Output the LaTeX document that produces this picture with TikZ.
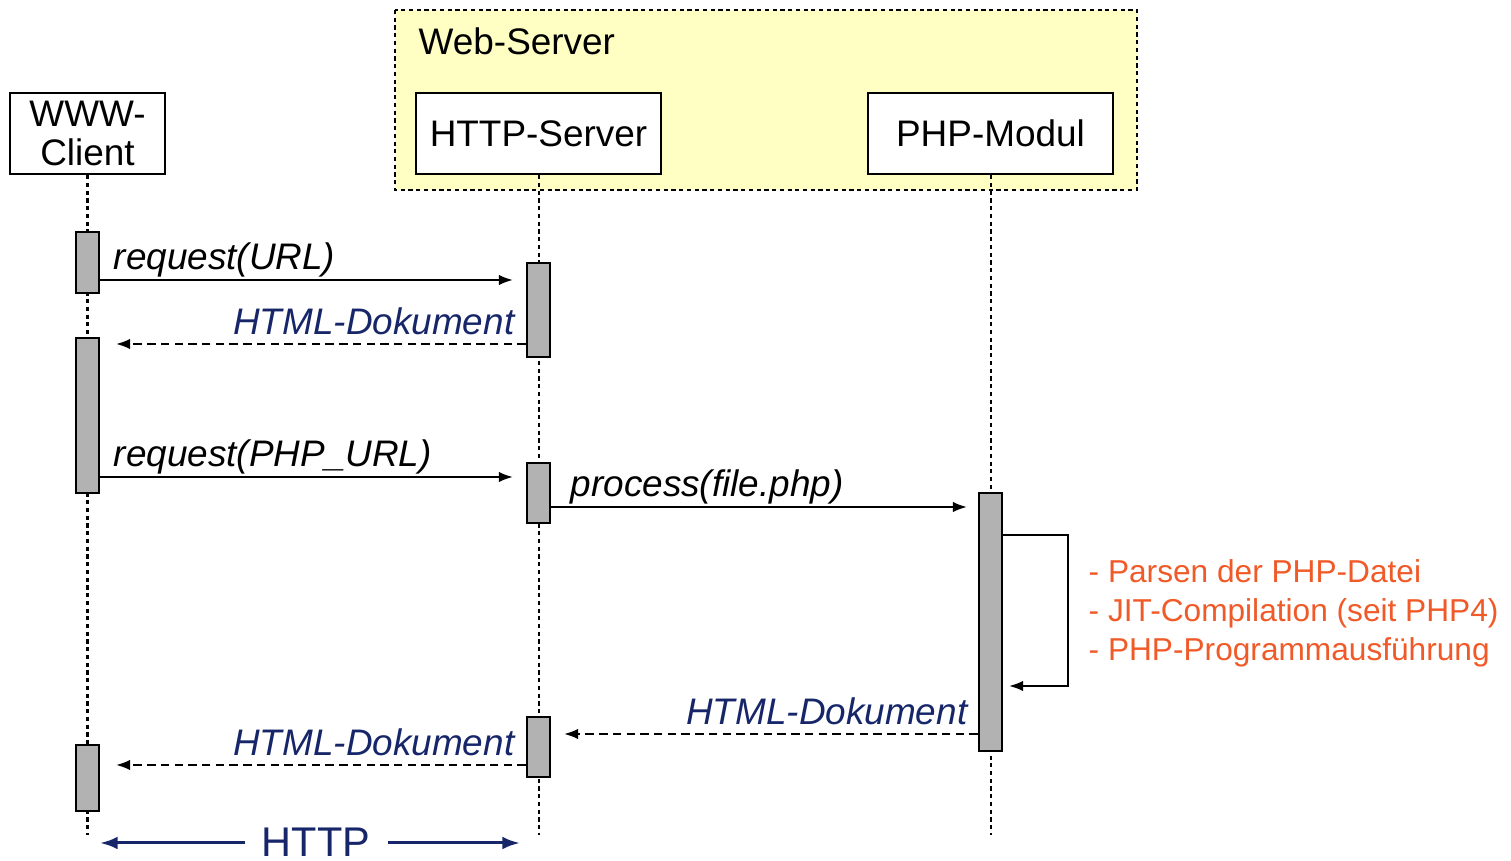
\documentclass[tikz,border=0pt]{standalone}
\usepackage{fontspec}
\setmainfont{Liberation Sans}
\usetikzlibrary{arrows.meta}
\definecolor{navy}{RGB}{22,38,105}
\definecolor{noteorange}{RGB}{240,90,40}
\definecolor{srvyellow}{RGB}{255,255,196}
\definecolor{bargray}{RGB}{178,178,178}

\begin{document}
\begin{tikzpicture}[x=0.01cm, y=-0.01cm,
		font=\fontsize{10.5}{11.1}\selectfont,
		head/.style={draw, fill=white, line width=0.25mm, inner sep=0pt, minimum height=0.81cm, align=center},
		bar/.style={draw, fill=bargray, line width=0.22mm, inner sep=0pt, minimum width=0.23cm},
		life/.style={line width=0.2mm, dash pattern=on 1.2pt off 1pt},
		msg/.style={line width=0.2mm, -{Latex[length=4pt,width=3pt]}},
		answer/.style={msg, dash pattern=on 2.4pt off 1.5pt},
		call/.style={anchor=base west, inner sep=0pt, font=\fontsize{10.5}{12}\selectfont\itshape},
		reply/.style={call, anchor=base east, text=navy},
		httparrow/.style={navy, line width=0.3mm, -{Latex[length=5pt,width=3.6pt]}}]

		\useasboundingbox (0,0) rectangle (1511,861);

		\draw[fill=srvyellow, line width=0.22mm, dash pattern=on 1.2pt off 1pt] (395,10) rectangle (1137,190);
		\draw (418,55) node (ws) [anchor=base west, inner sep=0pt] {Web-Server};

		\draw (87.5,133.5) node (client) [head, minimum width=1.55cm] {WWW-\\Client};
		\draw (538.5,133.5) node (httpsrv) [head, minimum width=2.45cm] {HTTP-Server};
		\draw (990.5,133.5) node (phpmod) [head, minimum width=2.45cm] {PHP-Modul};

		\coordinate (bottom) at (0,835);
		\draw[life] (client.south) -- (client.south |- bottom);
		\draw[life] (httpsrv.south) -- (httpsrv.south |- bottom);
		\draw[life] (phpmod.south) -- (phpmod.south |- bottom);

		\draw (87.5,262.5) node (c1) [bar, minimum height=0.61cm] {};
		\draw (87.5,415.5) node (c2) [bar, minimum height=1.55cm] {};
		\draw (87.5,778) node (c3) [bar, minimum height=0.66cm] {};
		\draw (538.5,310) node (h1) [bar, minimum height=0.94cm] {};
		\draw (538.5,493) node (h2) [bar, minimum height=0.60cm] {};
		\draw (538.5,747) node (h3) [bar, minimum height=0.60cm] {};
		\draw (990.5,622) node (p1) [bar, minimum height=2.58cm] {};

		\coordinate (m1) at (0,280);
		\draw[msg, shorten >=0.13cm] (c1.east |- m1) -- (h1.west |- m1);
		\draw (113,270) node (l1) [call] {request(URL)};

		\coordinate (r1) at (0,344);
		\draw[answer, shorten >=0.16cm] (h1.west |- r1) -- (c2.east |- r1);
		\draw (515,335) node (l2) [reply] {HTML-Dokument};

		\coordinate (m2) at (0,477);
		\draw[msg, shorten >=0.13cm] (c2.east |- m2) -- (h2.west |- m2);
		\draw (113,467) node (l3) [call] {request(PHP\_URL)};

		\coordinate (m3) at (0,507);
		\draw[msg, shorten >=0.11cm] (h2.east |- m3) -- (p1.west |- m3);
		\draw (570,497) node (l4) [call] {process(file.php)};

		\coordinate (s1) at (1068,535);
		\coordinate (s2) at (1068,686);
		\draw[msg, shorten >=0.06cm] (p1.east |- s1) -- (s1) -- (s2) -- (p1.east |- s2);
		\draw (1088,661) node (note) [anchor=base west, inner sep=0pt, align=left, text=noteorange, font=\fontsize{9}{11.1}\selectfont]
			{- Parsen der PHP-Datei\\- JIT-Compilation (seit PHP4)\\- PHP-Programmausführung};

		\coordinate (r2) at (0,734);
		\draw[answer, shorten >=0.13cm] (p1.west |- r2) -- (h3.east |- r2);
		\draw (968,725) node (l5) [reply] {HTML-Dokument};

		\coordinate (r3) at (0,765);
		\draw[answer, shorten >=0.16cm] (h3.west |- r3) -- (c3.east |- r3);
		\draw (515,756) node (l6) [reply] {HTML-Dokument};

		\draw (316,857) node (http) [anchor=base, inner sep=0pt, text=navy, font=\fontsize{11.8}{13}\selectfont] {HTTP};
		\coordinate (hl) at (100,843);
		\coordinate (hr) at (520,843);
		\coordinate (hm1) at (245,843);
		\coordinate (hm2) at (388,843);
		\draw[httparrow] (hm1) -- (hl);
		\draw[httparrow] (hm2) -- (hr);

	\end{tikzpicture}
\end{document}
